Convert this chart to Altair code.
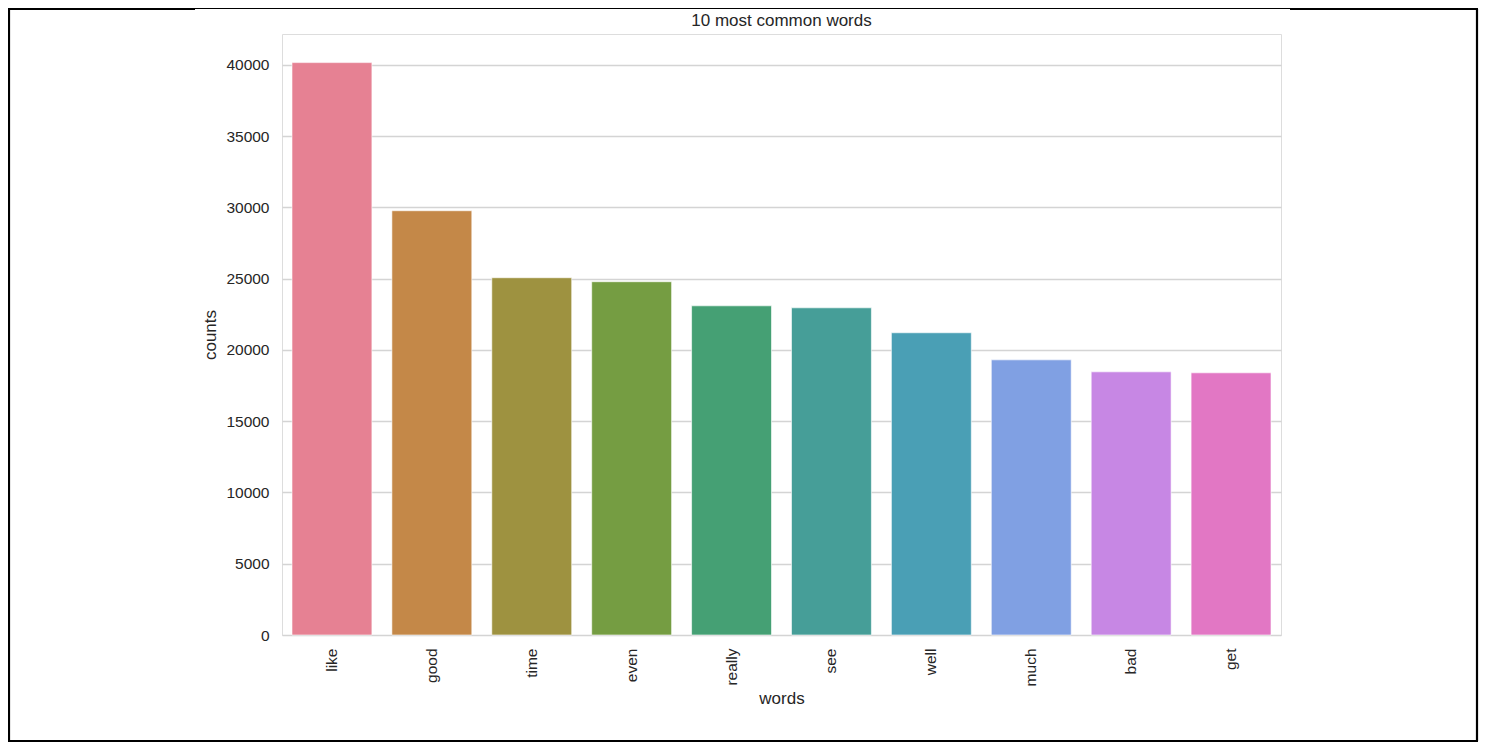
import altair as alt
import pandas as pd

words = ["like", "good", "time", "even", "really", "see", "well", "much", "bad", "get"]
counts = [40150, 29760, 25060, 24780, 23090, 22950, 21200, 19300, 18460, 18390]
colors = ["#e68193", "#c48848", "#9e9240", "#759d42", "#45a074",
          "#469e98", "#4a9fb5", "#80a0e3", "#c787e4", "#e277c4"]
y_ticks = [0, 5000, 10000, 15000, 20000, 25000, 30000, 35000, 40000]
title_text = "10 most common words"

df = pd.DataFrame({"words": words, "counts": counts})

FONT = "Liberation Sans"
TXT = "#262626"

bars = alt.Chart(df).mark_bar(stroke="white", strokeWidth=0.6).encode(
    x=alt.X("words:N", sort=words,
            scale=alt.Scale(paddingInner=0.2, paddingOuter=0.1),
            axis=alt.Axis(title="words", labelAngle=270, labelAlign="right",
                          labelBaseline="middle", labelPadding=13, ticks=False,
                          domain=False, grid=False, labelFontSize=15.5,
                          titleFontSize=17, titlePadding=5, titleFontWeight=400,
                          labelFont=FONT, titleFont=FONT, labelColor=TXT, titleColor=TXT)),
    y=alt.Y("counts:Q", scale=alt.Scale(domain=[0, 42157], nice=False),
            axis=alt.Axis(title="counts", values=y_ticks, format="d", ticks=False,
                          domain=False, grid=True, gridColor="#d4d4d4", gridWidth=1.4,
                          labelPadding=13, labelFontSize=15.5, titleFontSize=17,
                          titlePadding=6, titleFontWeight=400,
                          labelFont=FONT, titleFont=FONT, labelColor=TXT, titleColor=TXT)),
    color=alt.Color("words:N", sort=words,
                    scale=alt.Scale(domain=words, range=colors), legend=None),
)

one = alt.Data(values=[{"a": 1}])

title = alt.Chart(one).mark_text(font=FONT, fontSize=17, color=TXT, align="center",
                                 baseline="alphabetic", clip=False).encode(
    x=alt.value(499.5), y=alt.value(-8), text=alt.value(title_text))

def rule(x, x2, y, y2, w):
    return alt.Chart(one).mark_rule(color="black", strokeWidth=w, clip=False).encode(
        x=alt.value(x), x2=alt.value(x2), y=alt.value(y), y2=alt.value(y2))

frame = (
    rule(-273, -273, -25, 707, 2.2)      # left
    + rule(1195, 1195, -25, 707, 2.2)    # right
    + rule(-274, 1196, 707, 707, 2.2)    # bottom
    + rule(-274, -87, -25, -25, 2.2)     # top-left thick
    + rule(-87, 1008, -25.5, -25.5, 1.2) # top thin
    + rule(1008, 1196, -25, -25, 2.2)    # top-right thick
)

chart = alt.layer(bars, title, frame).properties(
    width=999, height=601,
    padding={"left": 274, "top": 26, "right": 198, "bottom": 107},
    autosize=alt.AutoSizeParams(type="none"),
).configure_view(
    stroke="#cccccc", strokeWidth=1.8
).configure(background="white")

chart.save("out.html", embed_options={"renderer": "svg", "actions": False})
